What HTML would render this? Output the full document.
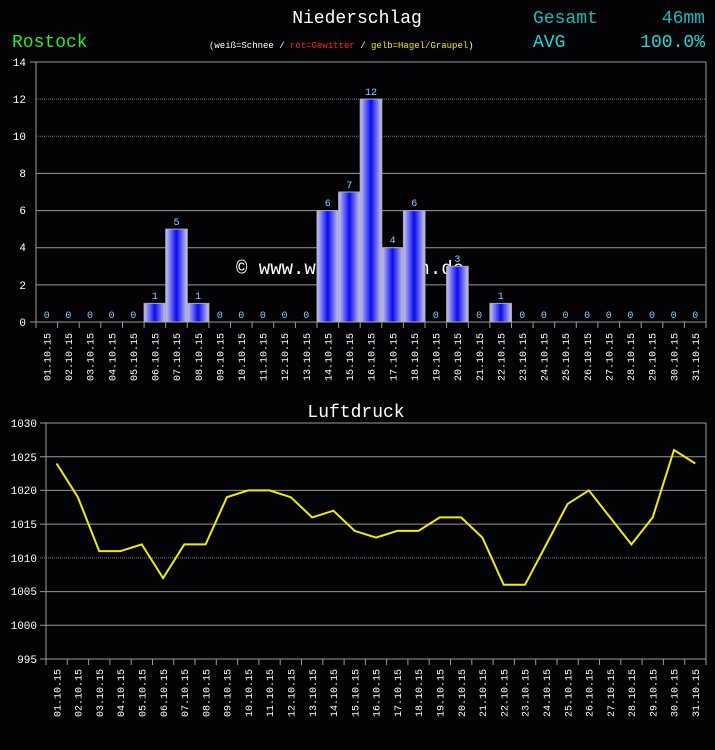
<!DOCTYPE html><html><head><style>body{margin:0;background:#030305;}svg{display:block}text{font-family:"Liberation Mono","DejaVu Sans Mono",monospace}</style></head><body>
<svg width="715" height="750" xmlns="http://www.w3.org/2000/svg">
<defs><linearGradient id="g" x1="0" x2="1" y1="0" y2="0"><stop offset="0" stop-color="#c8c8f0"/><stop offset="0.5" stop-color="#0a0af0"/><stop offset="1" stop-color="#c8c8f0"/></linearGradient></defs>
<rect width="715" height="750" fill="#030305"/>
<text x="357" y="23" fill="#fff" font-size="18" text-anchor="middle">Niederschlag</text>
<text x="12" y="47" fill="#22ee22" font-size="18">Rostock</text>
<text x="533" y="23" fill="#11bbbb" font-size="18">Gesamt</text>
<text x="705" y="23" fill="#11bbbb" font-size="18" text-anchor="end">46mm</text>
<text x="533" y="47" fill="#11dddd" font-size="18">AVG</text>
<text x="705" y="47" fill="#11dddd" font-size="18" text-anchor="end">100.0%</text>
<text x="209" y="48" font-size="9" fill="#fff">(weiß=Schnee / <tspan fill="#f22">rot=Gewitter</tspan> / <tspan fill="#ee0">gelb=Hagel/Graupel</tspan>)</text>
<g stroke="#999" stroke-width="1">
<line x1="36" y1="284.9" x2="706" y2="284.9"/><line x1="36" y1="247.7" x2="706" y2="247.7"/><line x1="36" y1="210.6" x2="706" y2="210.6"/><line x1="36" y1="173.4" x2="706" y2="173.4"/>
<line x1="36" y1="136.3" x2="706" y2="136.3" stroke="#777" stroke-dasharray="1 1"/><line x1="36" y1="99.1" x2="706" y2="99.1" stroke="#778" stroke-dasharray="1 1"/>
<line x1="30" y1="62" x2="706" y2="62"/><line x1="36" y1="62" x2="36" y2="322"/><line x1="706" y1="62" x2="706" y2="322"/><line x1="30" y1="322" x2="706" y2="322"/>
</g>
<g font-size="11" fill="#fff" text-anchor="end"><text x="26" y="66">14</text><text x="26" y="103">12</text><text x="26" y="140">10</text><text x="26" y="177">8</text><text x="26" y="214">6</text><text x="26" y="251">4</text><text x="26" y="289">2</text><text x="26" y="326">0</text></g>
<text x="236" y="274" fill="#fff" font-size="19">© www.wetterdaten.de</text>
<g fill="url(#g)" stroke="#aaa" stroke-width="1">
<rect x="144.1" y="303.4" width="21.6" height="18.6"/><rect x="165.7" y="229.1" width="21.6" height="92.9"/><rect x="187.3" y="303.4" width="21.6" height="18.6"/>
<rect x="317" y="210.6" width="21.6" height="111.4"/><rect x="338.6" y="192" width="21.6" height="130"/><rect x="360.2" y="99.1" width="21.6" height="222.9"/><rect x="381.8" y="247.7" width="21.6" height="74.3"/><rect x="403.4" y="210.6" width="21.6" height="111.4"/>
<rect x="446.6" y="266.3" width="21.6" height="55.7"/><rect x="489.9" y="303.4" width="21.6" height="18.6"/>
</g>
<g font-size="10" fill="#8cf" text-anchor="middle">
<text x="46.8" y="318">0</text><text x="68.4" y="318">0</text><text x="90" y="318">0</text><text x="111.6" y="318">0</text><text x="133.3" y="318">0</text><text x="154.9" y="299">1</text><text x="176.5" y="225">5</text><text x="198.1" y="299">1</text><text x="219.7" y="318">0</text><text x="241.3" y="318">0</text><text x="262.9" y="318">0</text><text x="284.5" y="318">0</text><text x="306.2" y="318">0</text><text x="327.8" y="206">6</text><text x="349.4" y="188">7</text><text x="371" y="95">12</text><text x="392.6" y="243">4</text><text x="414.2" y="206">6</text><text x="435.8" y="318">0</text><text x="457.4" y="262">3</text><text x="479.1" y="318">0</text><text x="500.7" y="299">1</text><text x="522.3" y="318">0</text><text x="543.9" y="318">0</text><text x="565.5" y="318">0</text><text x="587.1" y="318">0</text><text x="608.7" y="318">0</text><text x="630.4" y="318">0</text><text x="652" y="318">0</text><text x="673.6" y="318">0</text><text x="695.2" y="318">0</text>
</g>
<g stroke="#999"><path d="M36 322v6M57.6 322v6M79.2 322v6M100.8 322v6M122.5 322v6M144.1 322v6M165.7 322v6M187.3 322v6M208.9 322v6M230.5 322v6M252.1 322v6M273.7 322v6M295.4 322v6M317 322v6M338.6 322v6M360.2 322v6M381.8 322v6M403.4 322v6M425 322v6M446.6 322v6M468.3 322v6M489.9 322v6M511.5 322v6M533.1 322v6M554.7 322v6M576.3 322v6M597.9 322v6M619.6 322v6M641.2 322v6M662.8 322v6M684.4 322v6M706 322v6"/></g>
<g font-size="10" fill="#fff" text-anchor="end">
<text transform="translate(50.5 333) rotate(-90)">01.10.15</text><text transform="translate(72.1 333) rotate(-90)">02.10.15</text><text transform="translate(93.7 333) rotate(-90)">03.10.15</text><text transform="translate(115.3 333) rotate(-90)">04.10.15</text><text transform="translate(137 333) rotate(-90)">05.10.15</text><text transform="translate(158.6 333) rotate(-90)">06.10.15</text><text transform="translate(180.2 333) rotate(-90)">07.10.15</text><text transform="translate(201.8 333) rotate(-90)">08.10.15</text><text transform="translate(223.4 333) rotate(-90)">09.10.15</text><text transform="translate(245 333) rotate(-90)">10.10.15</text><text transform="translate(266.6 333) rotate(-90)">11.10.15</text><text transform="translate(288.2 333) rotate(-90)">12.10.15</text><text transform="translate(309.9 333) rotate(-90)">13.10.15</text><text transform="translate(331.5 333) rotate(-90)">14.10.15</text><text transform="translate(353.1 333) rotate(-90)">15.10.15</text><text transform="translate(374.7 333) rotate(-90)">16.10.15</text><text transform="translate(396.3 333) rotate(-90)">17.10.15</text><text transform="translate(417.9 333) rotate(-90)">18.10.15</text><text transform="translate(439.5 333) rotate(-90)">19.10.15</text><text transform="translate(461.1 333) rotate(-90)">20.10.15</text><text transform="translate(482.8 333) rotate(-90)">21.10.15</text><text transform="translate(504.4 333) rotate(-90)">22.10.15</text><text transform="translate(526 333) rotate(-90)">23.10.15</text><text transform="translate(547.6 333) rotate(-90)">24.10.15</text><text transform="translate(569.2 333) rotate(-90)">25.10.15</text><text transform="translate(590.8 333) rotate(-90)">26.10.15</text><text transform="translate(612.4 333) rotate(-90)">27.10.15</text><text transform="translate(634.1 333) rotate(-90)">28.10.15</text><text transform="translate(655.7 333) rotate(-90)">29.10.15</text><text transform="translate(677.3 333) rotate(-90)">30.10.15</text><text transform="translate(698.9 333) rotate(-90)">31.10.15</text>
</g>
<text x="356" y="417" fill="#fff" font-size="18" text-anchor="middle">Luftdruck</text>
<g stroke="#999" stroke-width="1">
<line x1="40" y1="423" x2="706" y2="423"/><line x1="40" y1="456.7" x2="706" y2="456.7"/><line x1="40" y1="490.4" x2="706" y2="490.4"/><line x1="40" y1="524.1" x2="706" y2="524.1"/>
<line x1="40" y1="557.9" x2="706" y2="557.9" stroke="#778" stroke-dasharray="1 1"/><line x1="40" y1="591.6" x2="706" y2="591.6"/><line x1="40" y1="625.3" x2="706" y2="625.3"/><line x1="40" y1="659" x2="706" y2="659"/>
<line x1="46" y1="423" x2="46" y2="659"/><line x1="706" y1="423" x2="706" y2="659"/>
</g>
<g font-size="11" fill="#fff" text-anchor="end"><text x="37" y="427">1030</text><text x="37" y="461">1025</text><text x="37" y="494">1020</text><text x="37" y="528">1015</text><text x="37" y="562">1010</text><text x="37" y="595">1005</text><text x="37" y="629">1000</text><text x="37" y="663">995</text></g>
<polyline fill="none" stroke="#ee0" stroke-width="2" points="56.6,463.5 77.9,497.2 99.2,551.1 120.5,551.1 141.8,544.4 163.1,578.1 184.3,544.4 205.6,544.4 226.9,497.2 248.2,490.4 269.5,490.4 290.8,497.2 312.1,517.4 333.4,510.7 354.7,530.9 376,537.6 397.2,530.9 418.5,530.9 439.8,517.4 461.1,517.4 482.4,537.6 503.7,584.8 525,584.8 546.3,544.4 567.6,503.9 588.9,490.4 610.1,517.4 631.4,544.4 652.7,517.4 674,450 695.3,463.5"/>
<g stroke="#999"><path d="M46 659v6M67.3 659v6M88.6 659v6M109.9 659v6M131.2 659v6M152.5 659v6M173.7 659v6M195 659v6M216.3 659v6M237.6 659v6M258.9 659v6M280.2 659v6M301.5 659v6M322.8 659v6M344.1 659v6M365.4 659v6M386.6 659v6M407.9 659v6M429.2 659v6M450.5 659v6M471.8 659v6M493.1 659v6M514.4 659v6M535.7 659v6M557 659v6M578.3 659v6M599.5 659v6M620.8 659v6M642.1 659v6M663.4 659v6M684.7 659v6M706 659v6"/></g>
<g font-size="10" fill="#fff" text-anchor="end">
<text transform="translate(60.3 669) rotate(-90)">01.10.15</text><text transform="translate(81.6 669) rotate(-90)">02.10.15</text><text transform="translate(102.9 669) rotate(-90)">03.10.15</text><text transform="translate(124.2 669) rotate(-90)">04.10.15</text><text transform="translate(145.5 669) rotate(-90)">05.10.15</text><text transform="translate(166.8 669) rotate(-90)">06.10.15</text><text transform="translate(188 669) rotate(-90)">07.10.15</text><text transform="translate(209.3 669) rotate(-90)">08.10.15</text><text transform="translate(230.6 669) rotate(-90)">09.10.15</text><text transform="translate(251.9 669) rotate(-90)">10.10.15</text><text transform="translate(273.2 669) rotate(-90)">11.10.15</text><text transform="translate(294.5 669) rotate(-90)">12.10.15</text><text transform="translate(315.8 669) rotate(-90)">13.10.15</text><text transform="translate(337.1 669) rotate(-90)">14.10.15</text><text transform="translate(358.4 669) rotate(-90)">15.10.15</text><text transform="translate(379.7 669) rotate(-90)">16.10.15</text><text transform="translate(400.9 669) rotate(-90)">17.10.15</text><text transform="translate(422.2 669) rotate(-90)">18.10.15</text><text transform="translate(443.5 669) rotate(-90)">19.10.15</text><text transform="translate(464.8 669) rotate(-90)">20.10.15</text><text transform="translate(486.1 669) rotate(-90)">21.10.15</text><text transform="translate(507.4 669) rotate(-90)">22.10.15</text><text transform="translate(528.7 669) rotate(-90)">23.10.15</text><text transform="translate(550 669) rotate(-90)">24.10.15</text><text transform="translate(571.3 669) rotate(-90)">25.10.15</text><text transform="translate(592.6 669) rotate(-90)">26.10.15</text><text transform="translate(613.8 669) rotate(-90)">27.10.15</text><text transform="translate(635.1 669) rotate(-90)">28.10.15</text><text transform="translate(656.4 669) rotate(-90)">29.10.15</text><text transform="translate(677.7 669) rotate(-90)">30.10.15</text><text transform="translate(699 669) rotate(-90)">31.10.15</text>
</g>
</svg>
</body></html>
